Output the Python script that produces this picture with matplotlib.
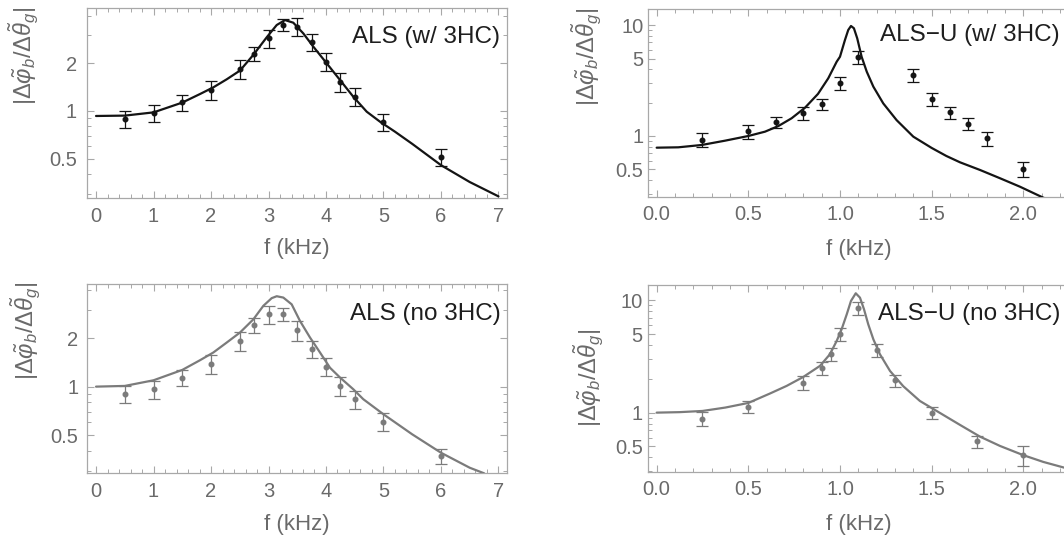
import matplotlib
matplotlib.use("Agg")
import matplotlib.pyplot as plt
from matplotlib.ticker import FixedLocator, MultipleLocator, NullFormatter

plt.rcParams["font.family"] = ["Liberation Sans", "DejaVu Sans"]
plt.rcParams["mathtext.fontset"] = "custom"
plt.rcParams["mathtext.rm"] = "Liberation Sans"
plt.rcParams["mathtext.it"] = "Liberation Sans:italic"

# ---- ALS with 3HC (top left) ----
als3_f = [0.5, 1.0, 1.5, 2.0, 2.5, 2.75, 3.0, 3.25, 3.5, 3.75, 4.0, 4.25, 4.5, 5.0, 6.0]
als3_v = [0.89, 0.967, 1.135, 1.355, 1.835, 2.30, 2.87, 3.50, 3.41, 2.73, 2.05, 1.53, 1.23, 0.856, 0.514]
als3_err = [0.11, 0.12, 0.135, 0.19, 0.25, 0.23, 0.38, 0.31, 0.45, 0.34, 0.26, 0.21, 0.157, 0.105, 0.065]
als3_fit_f = [0, 0.5, 1.0, 1.5, 1.809, 2.04, 2.273, 2.504, 2.736, 2.969, 3.143, 3.287, 3.431, 3.605,
              3.779, 4.012, 4.243, 4.475, 4.708, 4.939, 5.2, 5.5, 6.0, 6.5, 7.0]
als3_fit_v = [0.93, 0.935, 0.98, 1.13, 1.28, 1.41, 1.585, 1.80, 2.26, 2.92, 3.49, 3.75, 3.61, 3.09,
              2.55, 2.0, 1.57, 1.23, 0.99, 0.856, 0.74, 0.62, 0.455, 0.356, 0.289]

# ---- ALS-U with 3HC (top right) ----
alsu3_f = [0.25, 0.5, 0.65, 0.8, 0.9, 1.0, 1.1, 1.4, 1.5, 1.6, 1.7, 1.8, 2.0]
alsu3_v = [0.92, 1.10, 1.33, 1.60, 1.95, 3.01, 5.17, 3.52, 2.17, 1.63, 1.29, 0.953, 0.505]
alsu3_err = [0.133, 0.158, 0.152, 0.215, 0.225, 0.415, 0.72, 0.47, 0.295, 0.2, 0.167, 0.14, 0.082]
alsu3_fit_f = [0, 0.118, 0.245, 0.373, 0.5, 0.591, 0.664, 0.736, 0.809, 0.88, 0.936, 0.982, 1.0,
               1.027, 1.045, 1.06, 1.076, 1.094, 1.118, 1.146, 1.182, 1.236, 1.309, 1.4, 1.5,
               1.58, 1.655, 1.764, 1.873, 1.982, 2.109, 2.14]
alsu3_fit_v = [0.784, 0.790, 0.829, 0.907, 1.0, 1.094, 1.23, 1.445, 1.80, 2.40, 3.32, 4.69, 5.2,
               7.36, 9.07, 9.86, 9.4, 7.63, 5.2, 3.81, 2.79, 1.97, 1.39, 0.986, 0.78,
               0.66, 0.578, 0.493, 0.415, 0.348, 0.277, 0.265]

# ---- ALS no 3HC (bottom left) ----
als_f = [0.5, 1.0, 1.5, 2.0, 2.5, 2.75, 3.0, 3.25, 3.5, 3.75, 4.0, 4.25, 4.5, 5.0, 6.0]
als_v = [0.896, 0.962, 1.138, 1.38, 1.92, 2.43, 2.82, 2.82, 2.24, 1.71, 1.33, 1.01, 0.834, 0.605, 0.370]
als_err = [0.108, 0.129, 0.135, 0.19, 0.26, 0.26, 0.37, 0.25, 0.305, 0.21, 0.168, 0.13, 0.105, 0.078, 0.042]
als_fit_f = [0, 0.5, 1.0, 1.5, 1.809, 2.04, 2.273, 2.504, 2.736, 2.91, 3.055, 3.143, 3.258, 3.403,
             3.548, 3.722, 3.896, 4.07, 4.243, 4.475, 4.649, 5.0, 5.5, 6.0, 6.5, 6.75]
als_fit_v = [1.0, 1.01, 1.095, 1.27, 1.46, 1.63, 1.88, 2.17, 2.62, 3.18, 3.55, 3.65, 3.58, 3.25,
             2.56, 2.02, 1.63, 1.31, 1.14, 0.963, 0.835, 0.673, 0.505, 0.388, 0.313, 0.289]

# ---- ALS-U no 3HC (bottom right) ----
alsu_f = [0.25, 0.5, 0.8, 0.9, 0.95, 1.0, 1.1, 1.2, 1.3, 1.5, 1.75, 2.0]
alsu_v = [0.884, 1.13, 1.85, 2.49, 3.33, 4.99, 8.5, 3.62, 1.94, 1.0, 0.556, 0.418]
alsu_err = [0.125, 0.14, 0.26, 0.34, 0.45, 0.68, 1.09, 0.49, 0.235, 0.13, 0.067, 0.082]
alsu_fit_f = [0, 0.125, 0.25, 0.375, 0.5, 0.618, 0.709, 0.8, 0.891, 0.945, 0.982, 1.009, 1.037,
              1.06, 1.086, 1.109, 1.131, 1.154, 1.182, 1.218, 1.273, 1.345, 1.436, 1.5, 1.655,
              1.764, 1.873, 2.0, 2.109, 2.222, 2.3]
alsu_fit_v = [1.0, 1.01, 1.035, 1.11, 1.22, 1.48, 1.73, 2.08, 2.61, 3.31, 4.35, 5.53, 7.52,
              9.88, 11.56, 10.57, 8.33, 6.13, 4.50, 3.31, 2.35, 1.72, 1.27, 1.10, 0.777,
              0.611, 0.505, 0.418, 0.364, 0.324, 0.30]

BLACK = "#141414"
GREY = "#7b7b7b"
FRAME = "#a8a8a8"
TICKTXT = "#6a6a6a"
YLABEL = r"$|\Delta\tilde{\varphi}_b/\Delta\tilde{\theta}_g|$"

W, H = 1064, 542
fig = plt.figure(figsize=(W / 100, H / 100), dpi=100)


def fig_xy(x, y):
    return x / W, 1 - y / H


left_minor = [0.3, 0.4, 0.6, 0.7, 0.8, 0.9, 3, 4]
right_minor = [0.3, 0.4, 0.6, 0.7, 0.8, 0.9, 2, 3, 4, 6, 7, 8, 9]

# pixel layout: box = (left, top, right, bottom)
panels = [
    dict(box=(87.4, 8, 507.1, 198.3), xlim=(-0.15, 7.15), ylim=(0.281, 4.47),
         f=als3_f, v=als3_v, e=als3_err, ff=als3_fit_f, fv=als3_fit_v, c=BLACK,
         title="ALS (w/ 3HC)", title_xy=(500.3, 36.7),
         xmaj=1, xmin=0.2, ymaj=[0.5, 1, 2], ymin=left_minor, ylabels=["0.5", "1", "2"],
         xfmt="{:.0f}", ypad=7.5, xlab_xy=(297, 248.3), ylab_xy=(23.8, 56)),
    dict(box=(647.5, 9.3, 1078.3, 197), xlim=(-0.05, 2.3), ylim=(0.281, 13.95),
         f=alsu3_f, v=alsu3_v, e=alsu3_err, ff=alsu3_fit_f, fv=alsu3_fit_v, c=BLACK,
         title="ALS\u2212U (w/ 3HC)", title_xy=(1060, 35),
         xmaj=0.5, xmin=0.1, ymaj=[0.5, 1, 5, 10], ymin=right_minor, ylabels=["0.5", "1", "5", "10"],
         xfmt="{:.1f}", ypad=3, xlab_xy=(859, 250), ylab_xy=(587, 57)),
    dict(box=(87.4, 284.3, 507.1, 473.3), xlim=(-0.15, 7.15), ylim=(0.289, 4.33),
         f=als_f, v=als_v, e=als_err, ff=als_fit_f, fv=als_fit_v, c=GREY,
         title="ALS (no 3HC)", title_xy=(500.3, 314.3),
         xmaj=1, xmin=0.2, ymaj=[0.5, 1, 2], ymin=left_minor, ylabels=["0.5", "1", "2"],
         xfmt="{:.0f}", ypad=6.5, xlab_xy=(297, 524.3), ylab_xy=(25.5, 331)),
    dict(box=(647.5, 285, 1078.3, 472), xlim=(-0.05, 2.3), ylim=(0.296, 13.7),
         f=alsu_f, v=alsu_v, e=alsu_err, ff=alsu_fit_f, fv=alsu_fit_v, c=GREY,
         title="ALS\u2212U (no 3HC)", title_xy=(1060.5, 314.3),
         xmaj=0.5, xmin=0.1, ymaj=[0.5, 1, 5, 10], ymin=right_minor, ylabels=["0.5", "1", "5", "10"],
         xfmt="{:.1f}", ypad=3.5, xlab_xy=(859, 524.3), ylab_xy=(589, 378)),
]

for p in panels:
    l, t, r, b = p["box"]
    ax = fig.add_axes([l / W, 1 - b / H, (r - l) / W, (b - t) / H])
    ax.set_yscale("log")
    ax.plot(p["ff"], p["fv"], color=p["c"], lw=1.6, solid_joinstyle="round",
            solid_capstyle="round", zorder=3)
    ax.errorbar(p["f"], p["v"], yerr=p["e"], fmt="o", color=p["c"], ms=3.3,
                elinewidth=0.9, capsize=4, capthick=0.9, zorder=4)
    ax.set_xlim(*p["xlim"])
    ax.set_ylim(*p["ylim"])

    ax.xaxis.set_major_locator(MultipleLocator(p["xmaj"]))
    ax.xaxis.set_minor_locator(MultipleLocator(p["xmin"]))
    ax.xaxis.set_major_formatter(plt.FuncFormatter(lambda x, _, fmt=p["xfmt"]: fmt.format(x)))
    ax.yaxis.set_major_locator(FixedLocator(p["ymaj"]))
    ax.yaxis.set_minor_locator(FixedLocator(p["ymin"]))
    ax.yaxis.set_minor_formatter(NullFormatter())
    ax.set_yticklabels(p["ylabels"])

    for s in ax.spines.values():
        s.set_color(FRAME)
        s.set_linewidth(0.9)
    ax.tick_params(which="both", direction="in", top=True, right=True, color=FRAME,
                   labelcolor=TICKTXT, labelsize=14.5)
    ax.tick_params(which="major", length=5, width=0.8)
    ax.tick_params(which="minor", length=2.8, width=0.7)
    ax.tick_params(axis="x", pad=6)
    ax.tick_params(axis="y", pad=p["ypad"])

    ax.set_xlabel("f (kHz)", fontsize=16, color=TICKTXT, va="center", ha="center")
    ax.xaxis.set_label_coords(*fig_xy(*p["xlab_xy"]), transform=fig.transFigure)
    ax.set_ylabel(YLABEL, fontsize=17, color=TICKTXT, va="center", ha="center")
    ax.yaxis.set_label_coords(*fig_xy(*p["ylab_xy"]), transform=fig.transFigure)

    fig.text(*fig_xy(*p["title_xy"]), p["title"], ha="right", va="center",
             fontsize=17.5, color="#1e1e1e")

fig.savefig("out.png", dpi=100)
